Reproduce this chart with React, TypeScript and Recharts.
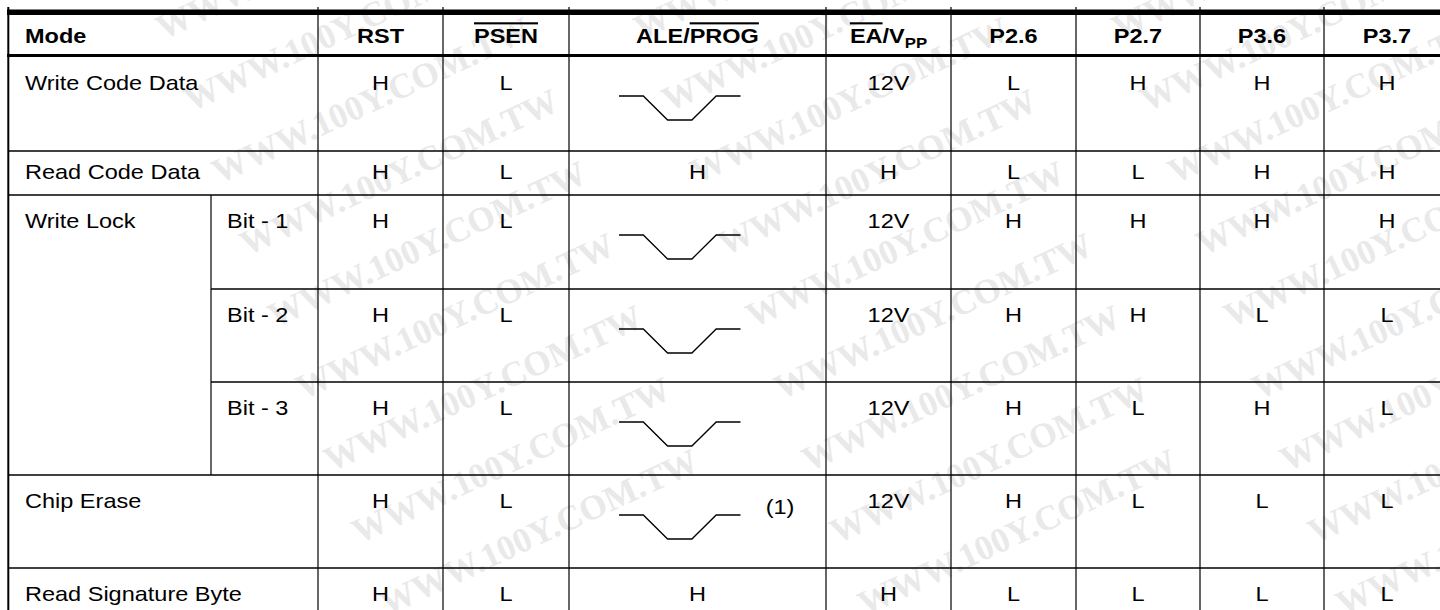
import React from "react";
import { ScatterChart, Scatter, XAxis, YAxis, ReferenceLine } from "recharts";

// table content
const HEADERS = ["Mode", "RST", "PSEN", "ALE/PROG", "EA/VPP", "P2.6", "P2.7", "P3.6", "P3.7"];
const MODES = ["Write Code Data", "Read Code Data", "Write Lock", "Write Lock", "Write Lock", "Chip Erase", "Read Signature Byte"];
const LOCK_BITS = ["", "", "Bit - 1", "Bit - 2", "Bit - 3", "", ""];
const RST = ["H", "H", "H", "H", "H", "H", "H"];
const PSEN = ["L", "L", "L", "L", "L", "L", "L"];
const ALE_PROG = ["pulse", "H", "pulse", "pulse", "pulse", "pulse", "H"];
const EA_VPP = ["12V", "H", "12V", "12V", "12V", "12V", "H"];
const P2_6 = ["L", "L", "H", "H", "H", "H", "L"];
const P2_7 = ["H", "L", "H", "H", "L", "L", "L"];
const P3_6 = ["H", "H", "H", "L", "H", "L", "L"];
const P3_7 = ["H", "H", "H", "L", "L", "L", "L"];
const NOTES = ["", "", "", "", "", "(1)", ""];
const PULSE_LEVELS = [1, 1, 0, 0, 1, 1];
const WATERMARK = "WWW.100Y.COM.TW";

const SIGNALS = [RST, PSEN, ALE_PROG, EA_VPP, P2_6, P2_7, P3_6, P3_7];

// layout (px)
const W = 1440;
const H = 610;
const COL_EDGES = [8, 211, 318, 443, 569, 826, 951, 1076, 1200, 1324, 1450];
const ROW_TOPS = [56, 151, 195, 289, 382, 475, 568, 662];
const ROW_BASE = [34, 28, 32.5, 32.5, 32.5, 33, 33];
const HEAD_BASE = 43;
const PAD = 17;
const PULSE_STEP = 24.3;
const PULSE_AMP = 24;
const FONT = "'Liberation Sans', Arial, sans-serif";
const STRETCH = 1.12;

const center = (i: number) => (COL_EDGES[i] + COL_EDGES[i + 1]) / 2;

type Pt = { x: number; y: number; text: string; kind: string };

const points: Pt[] = [];
HEADERS.forEach((h, i) => {
  if (i === 0) points.push({ x: COL_EDGES[0] + PAD, y: HEAD_BASE, text: h, kind: "head-left" });
  else points.push({ x: center(i + 1), y: HEAD_BASE, text: h, kind: "head" });
});
MODES.forEach((m, r) => {
  if (r === 0 || MODES[r - 1] !== m)
    points.push({ x: COL_EDGES[0] + PAD, y: ROW_TOPS[r] + ROW_BASE[r], text: m, kind: "left" });
  if (LOCK_BITS[r])
    points.push({ x: COL_EDGES[1] + 16, y: ROW_TOPS[r] + ROW_BASE[r], text: LOCK_BITS[r], kind: "left" });
});
SIGNALS.forEach((vals, c) => {
  vals.forEach((v, r) => {
    if (v === "pulse")
      points.push({ x: COL_EDGES[c + 2] + 50, y: ROW_TOPS[r] + 40, text: "", kind: "pulse" });
    else points.push({ x: center(c + 2), y: ROW_TOPS[r] + ROW_BASE[r], text: v, kind: "mid" });
  });
});
NOTES.forEach((n, r) => {
  if (n) points.push({ x: COL_EDGES[4] + 211, y: ROW_TOPS[r] + 39, text: n, kind: "mid" });
});

const renderHeader = (t: string) => {
  const over = { textDecoration: "overline" } as React.CSSProperties;
  if (t === "PSEN") return <tspan style={over}>PSEN</tspan>;
  if (t === "ALE/PROG")
    return (
      <>
        <tspan>ALE/</tspan>
        <tspan style={over}>PROG</tspan>
      </>
    );
  if (t === "EA/VPP")
    return (
      <>
        <tspan style={over}>EA</tspan>
        <tspan>/V</tspan>
        <tspan fontSize={15} dy={5}>PP</tspan>
      </>
    );
  return t;
};

const CellShape = (props: any) => {
  const { cx, cy, payload } = props;
  const d = payload as Pt;
  if (d.kind === "pulse") {
    const path = PULSE_LEVELS.map((lv, k) => `${k === 0 ? "M" : "L"}${cx + k * PULSE_STEP},${cy + (1 - lv) * PULSE_AMP}`).join(" ");
    return <path d={path} fill="none" stroke="#000" strokeWidth={1.3} />;
  }
  const head = d.kind.startsWith("head");
  return (
    <text
      transform={`translate(${cx},${cy}) scale(${STRETCH},1)`}
      x={0}
      y={0}
      textAnchor={d.kind === "left" || d.kind === "head-left" ? "start" : "middle"}
      fontFamily={FONT}
      fontSize={21}
      fontWeight={head ? 700 : 400}
      fill="#000"
    >
      {head ? renderHeader(d.text) : d.text}
    </text>
  );
};

type Seg = { x1: number; y1: number; x2: number; y2: number; w: number };
const lines: Seg[] = [
  { x1: 7, y1: 12.2, x2: W, y2: 12.2, w: 5.5 },
  { x1: 7, y1: 55.6, x2: W, y2: 55.6, w: 3 },
  { x1: 8, y1: 151, x2: W, y2: 151, w: 1.3 },
  { x1: 8, y1: 195, x2: W, y2: 195, w: 1.3 },
  { x1: COL_EDGES[1], y1: 289, x2: W, y2: 289, w: 1.3 },
  { x1: COL_EDGES[1], y1: 382, x2: W, y2: 382, w: 1.3 },
  { x1: 8, y1: 475, x2: W, y2: 475, w: 1.3 },
  { x1: 8, y1: 568, x2: W, y2: 568, w: 1.3 },
  { x1: 8.3, y1: 7, x2: 8.3, y2: H, w: 2 },
  { x1: COL_EDGES[1], y1: 195, x2: COL_EDGES[1], y2: 475, w: 1.2 },
  ...COL_EDGES.slice(2, 10).map((x) => ({ x1: x, y1: 7, x2: x, y2: H, w: 1.2 })),
];

// background watermark: three bands of stacked copies sloping down to the right
const marks: { x: number; y: number }[] = [];
[303, 781, 1259].forEach((x0) => {
  for (let k = -6; k <= 3; k++) marks.push({ x: x0 + 28 * k, y: 400 + 72 * k });
});

function Watermark() {
  return (
    <svg width={W} height={H} style={{ position: "absolute", left: 0, top: 0 }}>
      {marks.map((m, i) => (
        <text
          key={i}
          transform={`translate(${m.x},${m.y}) rotate(-25)`}
          fontFamily="'Liberation Serif', 'DejaVu Serif', serif"
          fontWeight={700}
          fontSize={35}
          fill="#e9e9e9"
        >
          {WATERMARK}
        </text>
      ))}
    </svg>
  );
}

export default function App() {
  return (
    <div style={{ position: "absolute", left: 0, top: 0, width: W, height: H, background: "#fff", overflow: "hidden" }}>
      <Watermark />
      <div style={{ position: "absolute", left: 0, top: 0 }}>
        <ScatterChart width={W} height={H} margin={{ top: 0, right: 0, bottom: 0, left: 0 }}>
          <XAxis type="number" dataKey="x" domain={[0, W]} hide />
          <YAxis type="number" dataKey="y" domain={[0, H]} reversed hide />
          {lines.map((s, i) => (
            <ReferenceLine
              key={i}
              segment={[{ x: s.x1, y: s.y1 }, { x: s.x2, y: s.y2 }]}
              stroke="#000"
              strokeWidth={s.w}
              ifOverflow="visible"
            />
          ))}
          <Scatter data={points} shape={CellShape} isAnimationActive={false} />
        </ScatterChart>
      </div>
    </div>
  );
}
